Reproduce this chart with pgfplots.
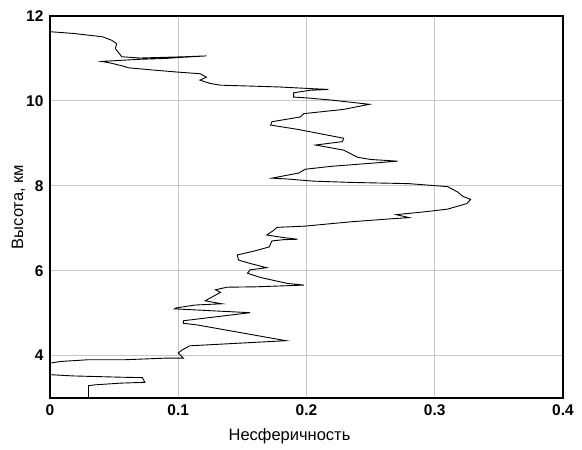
\documentclass[border=0pt]{standalone}
\usepackage{fontspec}
\setmainfont{Liberation Sans}
\usepackage{pgfplots}
\pgfplotsset{compat=1.18}

\pgfplotstableread{
x y
0 11.63
0.018 11.59
0.041 11.51
0.048 11.43
0.052 11.35
0.051 11.23
0.056 11.04
0.070 11.01
0.105 11.04
0.122 11.06
0.105 11.03
0.090 11.00
0.070 10.98
0.052 10.95
0.040 10.93
0.046 10.90
0.057 10.82
0.061 10.78
0.083 10.72
0.099 10.68
0.117 10.64
0.122 10.56
0.117 10.49
0.125 10.41
0.133 10.37
0.177 10.33
0.203 10.29
0.217 10.27
0.203 10.25
0.194 10.21
0.190 10.19
0.190 10.09
0.2005 10.07
0.219 10.02
0.240 9.95
0.249 9.92
0.229 9.80
0.198 9.70
0.195 9.62
0.173 9.51
0.172 9.43
0.193 9.33
0.229 9.12
0.228 9.04
0.207 8.96
0.229 8.84
0.240 8.67
0.250 8.62
0.271 8.58
0.250 8.53
0.220 8.46
0.199 8.39
0.194 8.30
0.173 8.18
0.185 8.16
0.205 8.11
0.234 8.08
0.280 8.05
0.310 7.98
0.318 7.85
0.322 7.75
0.328 7.68
0.325 7.58
0.310 7.45
0.290 7.38
0.270 7.32
0.280 7.25
0.265 7.22
0.234 7.15
0.199 7.05
0.177 7.02
0.174 6.94
0.169 6.84
0.182 6.78
0.193 6.74
0.182 6.73
0.173 6.70
0.171 6.56
0.159 6.46
0.146 6.37
0.147 6.25
0.156 6.17
0.169 6.07
0.156 6.02
0.154 5.94
0.164 5.84
0.185 5.70
0.198 5.66
0.161 5.62
0.138 5.61
0.129 5.55
0.133 5.49
0.121 5.29
0.134 5.22
0.113 5.19
0.098 5.12
0.097 5.10
0.156 5.01
0.104 4.82
0.104 4.76
0.115 4.72
0.184 4.35
0.178 4.34
0.109 4.23
0.103 4.13
0.100 4.06
0.104 3.94
0.091 3.94
0.057 3.90
0.029 3.90
0.008 3.86
0 3.82
0 3.55
0.018 3.52
0.055 3.49
0.072 3.48
0.074 3.37
0.055 3.35
0.035 3.31
0.030 3.29
0.030 3.00
}\profile

\begin{document}
\begin{tikzpicture}
\path[use as bounding box] (-50pt,-52pt) rectangle (532pt,398pt);
\begin{axis}[
    scale only axis,
    width=513pt, height=382pt,
    xmin=0, xmax=0.4, ymin=3, ymax=12,
    xtick={0,0.1,0.2,0.3,0.4},
    ytick={4,6,8,10,12},
    xticklabels={0,0.1,0.2,0.3,0.4},
    yticklabels={4,6,8,10,12},
    major tick length=0pt,
    grid=major,
    major grid style={draw=black!22, line width=0.9pt},
    axis line style={line width=1.1pt},
    tick label style={font=\fontsize{15.5}{17}\selectfont\bfseries},
    label style={font=\fontsize{16.5}{18}\selectfont},
    xlabel={Несферичность},
    ylabel={Высота, км},
    xlabel style={yshift=-6pt, xshift=-17pt},
    ylabel style={yshift=-6pt},
    xticklabel style={yshift=-3pt},
    yticklabel style={xshift=-3pt},
  ]
  \addplot[black, line width=0.9pt] table[x=x, y=y] {\profile};
\end{axis}
\end{tikzpicture}
\end{document}
